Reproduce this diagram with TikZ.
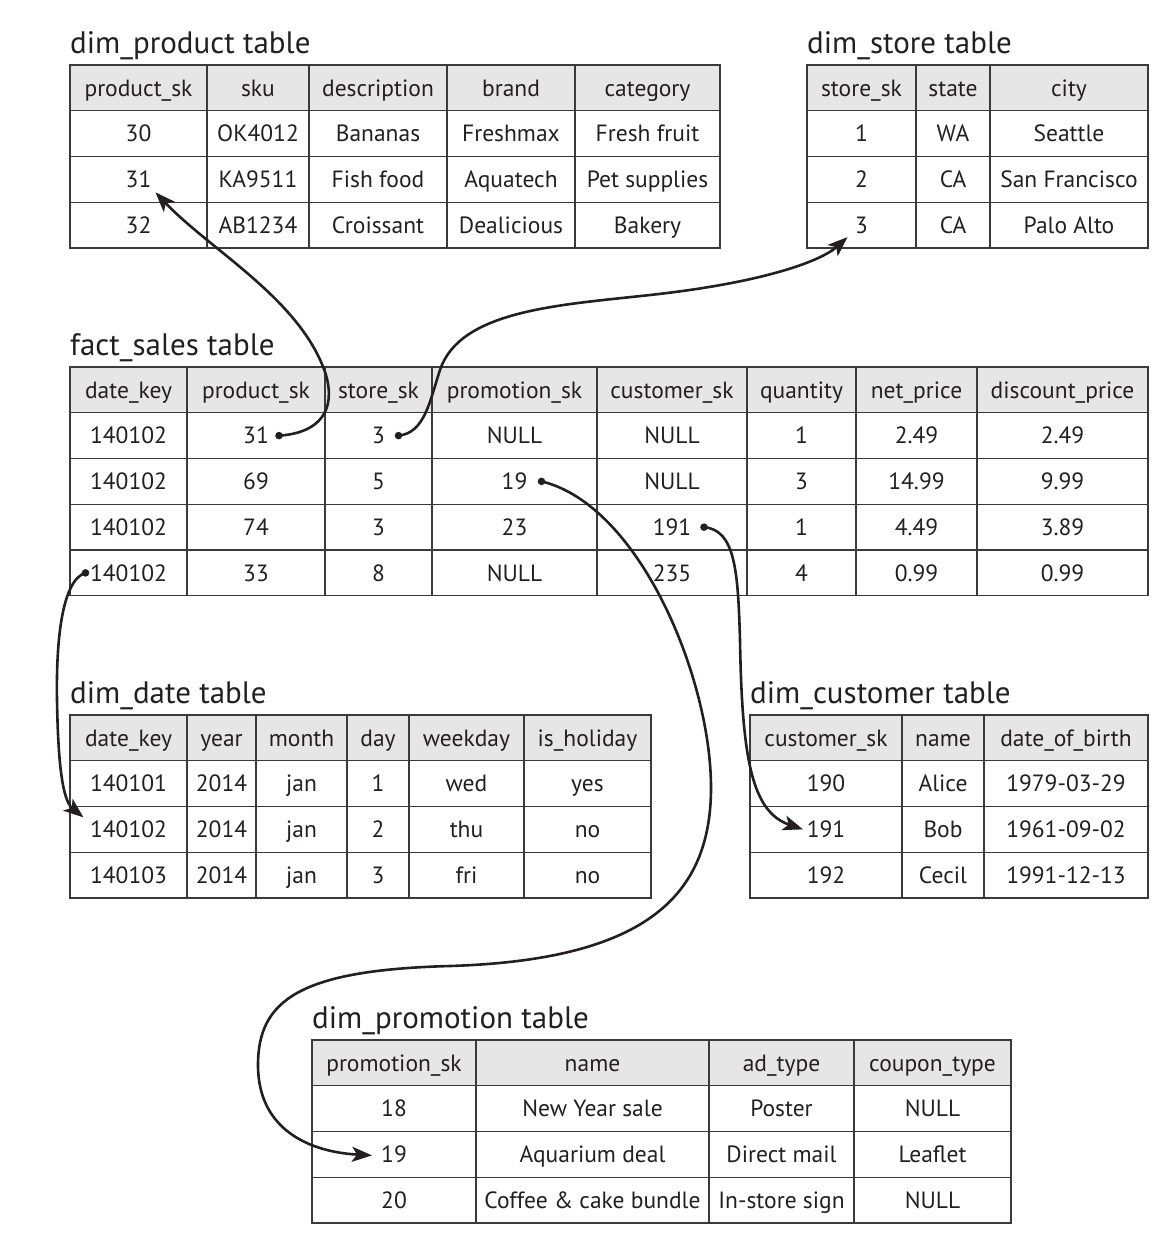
\documentclass[tikz,border=0pt]{standalone}
\usepackage{fontspec}
\setmainfont{PT Sans}
\usetikzlibrary{arrows.meta}

\definecolor{gridline}{HTML}{3A3A3A}
\definecolor{headfill}{HTML}{E6E6E6}
\definecolor{inkblack}{HTML}{231F20}

% one table row: name, style, table top, row index, x1/x2/text cells
\newcommand{\tabrow}[5]{%
  \foreach \xa/\xb/\txt [count=\c] in {#5} {
    \node[#2, minimum width={\xb-\xa}] (#1-#4-\c) at ({(\xa+\xb)/2},{#3+(#4+0.5)*\rowh}) {\txt};
  }%
}

\begin{document}
\begin{tikzpicture}[x=1pt, y=-1pt,
    cell/.style={draw=gridline, line width=1.4pt, inner sep=0pt, minimum height=45.75pt,
      text height=20.5pt, text depth=4pt, font=\fontsize{23.5}{26}\selectfont, text=inkblack},
    headcell/.style={cell, fill=headfill},
    tabtitle/.style={anchor=base west, inner sep=0pt, font=\fontsize{31}{36}\selectfont, text=inkblack},
    fk/.style={draw=inkblack, line width=2.6pt, -{Stealth[length=20pt, width=15pt, inset=5pt]}}]
    % --- Parameters ---
    \pgfmathsetmacro{\rowh}{45.75}
    \useasboundingbox (0,0) rectangle (1158,1240);

    % --- dim_product ---
    \node[tabtitle] (prod-title) at (70,53) {dim\_product table};
    \tabrow{prod}{headcell}{65}{0}{70/207/product\_sk, 207/309/sku, 309/447/description, 447/575/brand, 575/720/category}
    \tabrow{prod}{cell}{65}{1}{70/207/30, 207/309/OK4012, 309/447/Bananas, 447/575/Freshmax, 575/720/Fresh fruit}
    \tabrow{prod}{cell}{65}{2}{70/207/31, 207/309/KA9511, 309/447/Fish food, 447/575/Aquatech, 575/720/Pet supplies}
    \tabrow{prod}{cell}{65}{3}{70/207/32, 207/309/AB1234, 309/447/Croissant, 447/575/Dealicious, 575/720/Bakery}

    % --- dim_store ---
    \node[tabtitle] (store-title) at (807,53) {dim\_store table};
    \tabrow{store}{headcell}{65}{0}{807/916/store\_sk, 916/990/state, 990/1148/city}
    \tabrow{store}{cell}{65}{1}{807/916/1, 916/990/WA, 990/1148/Seattle}
    \tabrow{store}{cell}{65}{2}{807/916/2, 916/990/CA, 990/1148/San Francisco}
    \tabrow{store}{cell}{65}{3}{807/916/3, 916/990/CA, 990/1148/Palo Alto}

    % --- fact_sales ---
    \node[tabtitle] (fact-title) at (70,355) {fact\_sales table};
    \tabrow{fact}{headcell}{367}{0}{70/187/date\_key, 187/325/product\_sk, 325/432/store\_sk, 432/597/promotion\_sk, 597/747/customer\_sk, 747/856/quantity, 856/977/net\_price, 977/1148/discount\_price}
    \tabrow{fact}{cell}{367}{1}{70/187/140102, 187/325/31, 325/432/3, 432/597/NULL, 597/747/NULL, 747/856/1, 856/977/2.49, 977/1148/2.49}
    \tabrow{fact}{cell}{367}{2}{70/187/140102, 187/325/69, 325/432/5, 432/597/19, 597/747/NULL, 747/856/3, 856/977/14.99, 977/1148/9.99}
    \tabrow{fact}{cell}{367}{3}{70/187/140102, 187/325/74, 325/432/3, 432/597/23, 597/747/191, 747/856/1, 856/977/4.49, 977/1148/3.89}
    \tabrow{fact}{cell}{367}{4}{70/187/140102, 187/325/33, 325/432/8, 432/597/NULL, 597/747/235, 747/856/4, 856/977/0.99, 977/1148/0.99}

    % --- dim_date ---
    \node[tabtitle] (date-title) at (70,703) {dim\_date table};
    \tabrow{date}{headcell}{715}{0}{70/187/date\_key, 187/256/year, 256/347/month, 347/409/day, 409/524/weekday, 524/651/is\_holiday}
    \tabrow{date}{cell}{715}{1}{70/187/140101, 187/256/2014, 256/347/jan, 347/409/1, 409/524/wed, 524/651/yes}
    \tabrow{date}{cell}{715}{2}{70/187/140102, 187/256/2014, 256/347/jan, 347/409/2, 409/524/thu, 524/651/no}
    \tabrow{date}{cell}{715}{3}{70/187/140103, 187/256/2014, 256/347/jan, 347/409/3, 409/524/fri, 524/651/no}

    % --- dim_customer ---
    \node[tabtitle] (cust-title) at (750,703) {dim\_customer table};
    \tabrow{cust}{headcell}{715}{0}{750/902/customer\_sk, 902/984/name, 984/1148/date\_of\_birth}
    \tabrow{cust}{cell}{715}{1}{750/902/190, 902/984/Alice, 984/1148/1979-03-29}
    \tabrow{cust}{cell}{715}{2}{750/902/191, 902/984/Bob, 984/1148/1961-09-02}
    \tabrow{cust}{cell}{715}{3}{750/902/192, 902/984/Cecil, 984/1148/1991-12-13}

    % --- dim_promotion ---
    \node[tabtitle] (promo-title) at (312,1028) {dim\_promotion table};
    \tabrow{promo}{headcell}{1040}{0}{312/476/promotion\_sk, 476/709/name, 709/854/ad\_type, 854/1011/coupon\_type}
    \tabrow{promo}{cell}{1040}{1}{312/476/18, 476/709/New Year sale, 709/854/Poster, 854/1011/NULL}
    \tabrow{promo}{cell}{1040}{2}{312/476/19, 476/709/Aquarium deal, 709/854/Direct mail, 854/1011/Leaflet}
    \tabrow{promo}{cell}{1040}{3}{312/476/20, 476/709/Coffee \& cake bundle, 709/854/In-store sign, 854/1011/NULL}

    % --- Key ends ---
    \coordinate (fkprod) at ([xshift=23pt]fact-1-2.center);
    \coordinate (pkprod) at ([shift={(17,13)}]prod-2-1.center);
    \coordinate (fkstore) at ([xshift=20pt]fact-1-3.center);
    \coordinate (pkstore) at ([shift={(-14,12)}]store-3-1.center);
    \coordinate (fkpromo) at ([xshift=27pt]fact-2-4.center);
    \coordinate (pkpromo) at ([shift={(-22,1)}]promo-2-1.center);
    \coordinate (fkcust) at ([xshift=32pt]fact-3-5.center);
    \coordinate (pkcust) at ([xshift=-23pt]cust-2-1.center);
    \coordinate (fkdate) at ([xshift=-43pt]fact-4-1.center);
    \coordinate (pkdate) at ([shift={(-45,-12)}]date-2-1.center);

    % --- Foreign key arrows ---
    \draw[fk] (fkprod) .. controls (320,433) and (336,410) .. (326,375)
        .. controls (302,300) and (210,250) .. (pkprod);
    \draw[fk] (fkstore) .. controls (425,433) and (430,400) .. (440,370)
        .. controls (460,310) and (560,305) .. (650,295)
        .. controls (760,283) and (820,262) .. (pkstore);
    \draw[fk] (fkpromo) .. controls (640,505) and (712,680) .. (711,790)
        .. controls (710,900) and (640,960) .. (450,966)
        .. controls (300,970) and (258,1000) .. (258,1065)
        .. controls (258,1130) and (310,1152) .. (pkpromo);
    \draw[fk] (fkcust) .. controls (735,530) and (738,570) .. (740,640)
        .. controls (742,760) and (752,812) .. (pkcust);
    \draw[fk] (fkdate) .. controls (62,580) and (56,640) .. (57,700)
        .. controls (58,760) and (62,800) .. (pkdate);
    \foreach \k in {fkprod, fkstore, fkpromo, fkcust, fkdate} {
        \fill[inkblack] (\k) circle (3.8);
    }
\end{tikzpicture}
\end{document}
